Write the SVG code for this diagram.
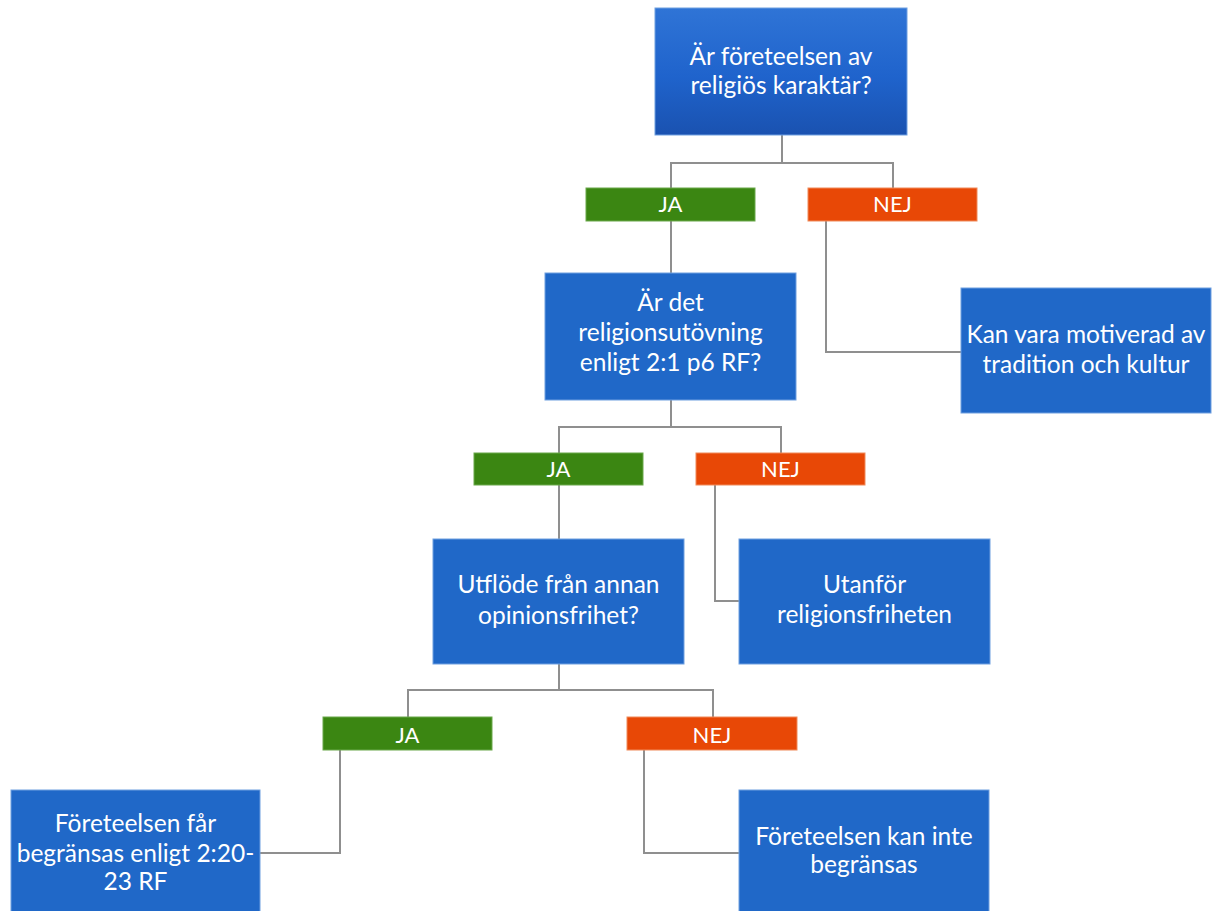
<svg xmlns="http://www.w3.org/2000/svg" width="1228" height="911" viewBox="0 0 1228 911">
<defs>
<linearGradient id="g1" x1="0" y1="0" x2="0" y2="1">
<stop offset="0" stop-color="#2f74d6"/>
<stop offset="0.55" stop-color="#1f63cc"/>
<stop offset="1" stop-color="#1a52b0"/>
</linearGradient>
<style>
.box{fill:#2068c8;stroke:#6f9fe0;stroke-width:1}
.top{fill:url(#g1);stroke:#6f9fe0;stroke-width:1}
.ja{fill:#3b8612;stroke:#6aa84a;stroke-width:1}
.nej{fill:#e84806;stroke:#f08a5a;stroke-width:1}
.t{font-family:Lato,"Liberation Sans",sans-serif;font-size:24.5px;fill:#ffffff;text-anchor:middle}
.l{font-family:Lato,"Liberation Sans",sans-serif;font-size:22px;fill:#ffffff;text-anchor:middle}
.c{fill:none;stroke:#8f8f8f;stroke-width:2}
</style>
</defs>
<rect width="1228" height="911" fill="#ffffff"/>
<g id="connectors">
<path class="c" d="M782,135 V163 M671,188 V163 H893 V188"/>
<path class="c" d="M671,221 V273"/>
<path class="c" d="M826,221 V352 H961"/>
<path class="c" d="M671,400 V427 M559,453 V427 H781 V453"/>
<path class="c" d="M559,485 V539"/>
<path class="c" d="M715,485 V601 H739"/>
<path class="c" d="M559,664 V690 M408,717 V690 H713 V717"/>
<path class="c" d="M340,750 V853 H260"/>
<path class="c" d="M644,750 V853 H739"/>
</g>
<g id="n1">
<rect class="top" x="655" y="8" width="252" height="127"/>
<text class="t" x="781" y="65">Är företeelsen av</text>
<text class="t" x="781" y="94">religiös karaktär?</text>
</g>
<g id="ja1">
<rect class="ja" x="586" y="188" width="169" height="33"/>
<text class="l" x="670.5" y="212">JA</text>
</g>
<g id="nej1">
<rect class="nej" x="808" y="188" width="169" height="33"/>
<text class="l" x="892.5" y="212">NEJ</text>
</g>
<g id="n2">
<rect class="box" x="545" y="273" width="251" height="127"/>
<text class="t" x="670.5" y="311">Är det</text>
<text class="t" x="670.5" y="341">religionsutövning</text>
<text class="t" x="670.5" y="371">enligt 2:1 p6 RF?</text>
</g>
<g id="n3">
<rect class="box" x="961" y="288" width="250" height="125"/>
<text class="t" x="1086" y="343">Kan vara motiverad av</text>
<text class="t" x="1086" y="373">tradition och kultur</text>
</g>
<g id="ja2">
<rect class="ja" x="474" y="453" width="169" height="32"/>
<text class="l" x="558.5" y="477">JA</text>
</g>
<g id="nej2">
<rect class="nej" x="696" y="453" width="169" height="32"/>
<text class="l" x="780.5" y="477">NEJ</text>
</g>
<g id="n4">
<rect class="box" x="433" y="539" width="251" height="125"/>
<text class="t" x="558.5" y="593">Utflöde från annan</text>
<text class="t" x="558.5" y="624">opinionsfrihet?</text>
</g>
<g id="n5">
<rect class="box" x="739" y="539" width="251" height="125"/>
<text class="t" x="864.5" y="593">Utanför</text>
<text class="t" x="864.5" y="623">religionsfriheten</text>
</g>
<g id="ja3">
<rect class="ja" x="323" y="717" width="169" height="33"/>
<text class="l" x="407.5" y="743">JA</text>
</g>
<g id="nej3">
<rect class="nej" x="627" y="717" width="170" height="33"/>
<text class="l" x="712" y="743">NEJ</text>
</g>
<g id="n6">
<rect class="box" x="11" y="790" width="249" height="125"/>
<text class="t" x="135.5" y="832">Företeelsen får</text>
<text class="t" x="135.5" y="862">begränsas enligt 2:20-</text>
<text class="t" x="135.5" y="890">23 RF</text>
</g>
<g id="n7">
<rect class="box" x="739" y="790" width="250" height="125"/>
<text class="t" x="864" y="845">Företeelsen kan inte</text>
<text class="t" x="864" y="873">begränsas</text>
</g>
</svg>
